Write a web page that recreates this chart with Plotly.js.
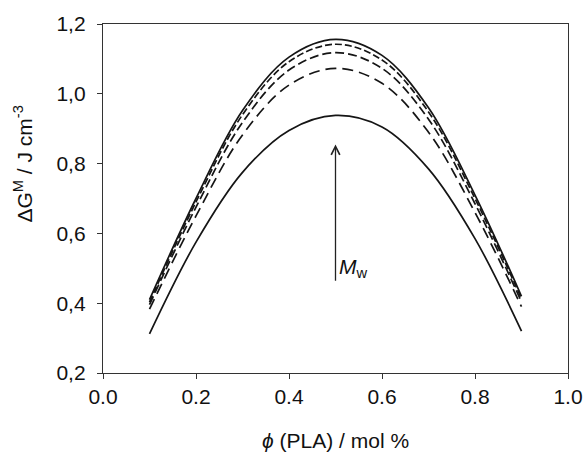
<!DOCTYPE html>
<html><head><meta charset="utf-8">
<script src="https://cdn.plot.ly/plotly-3.0.1.min.js"></script>
<style>body{margin:0;background:#fff}#c{width:584px;height:454px}</style>
</head><body><div id="c"></div>
<script>
const phi = [0.1, 0.2, 0.3, 0.4, 0.5, 0.6, 0.7, 0.8, 0.9];
const gLow   = [0.312, 0.575, 0.775, 0.895, 0.938, 0.905, 0.785, 0.585, 0.320];
const gDash3 = [0.383, 0.650, 0.882, 1.025, 1.073, 1.030, 0.890, 0.660, 0.390];
const gDash2 = [0.396, 0.675, 0.918, 1.068, 1.118, 1.073, 0.927, 0.685, 0.404];
const gDash1 = [0.403, 0.690, 0.940, 1.092, 1.142, 1.097, 0.948, 0.700, 0.413];
const gHigh  = [0.410, 0.700, 0.952, 1.105, 1.156, 1.110, 0.960, 0.710, 0.420];
const xTicks = [0.0, 0.2, 0.4, 0.6, 0.8, 1.0];
const xTickText = ['0.0', '0.2', '0.4', '0.6', '0.8', '1.0'];
const yTicks = [0.2, 0.4, 0.6, 0.8, 1.0, 1.2];
const yTickText = ['0,2', '0,4', '0,6', '0,8', '1,0', '1,2'];

const col = '#151515';
function tr(y, dash) {
  return {x: phi, y: y, mode: 'lines', type: 'scatter',
    line: {color: col, width: 1.7, dash: dash, shape: 'spline', smoothing: 1.0},
    hoverinfo: 'skip', showlegend: false};
}
const data = [
  tr(gLow, 'solid'),
  tr(gDash3, '11px,6px'),
  tr(gDash2, '9px,4px'),
  tr(gDash1, '7px,3px'),
  tr(gHigh, 'solid')
];
const font = {family: 'Liberation Sans, Arial, sans-serif', color: '#111', size: 21};
const layout = {
  width: 584, height: 454,
  margin: {l: 103, r: 16, t: 24, b: 81},
  paper_bgcolor: '#fff', plot_bgcolor: '#fff',
  font: font,
  xaxis: {range: [0, 1], tickvals: xTicks, ticktext: xTickText,
    ticks: 'outside', ticklen: 5, tickwidth: 1, tickcolor: '#333',
    showline: true, linecolor: '#333', linewidth: 1.2, mirror: true,
    showgrid: false, zeroline: false, tickfont: {size: 21}},
  yaxis: {range: [0.2, 1.2], tickvals: yTicks, ticktext: yTickText,
    ticks: 'outside', ticklen: 5, tickwidth: 1, tickcolor: '#333',
    showline: true, linecolor: '#333', linewidth: 1.2, mirror: true,
    showgrid: false, zeroline: false, tickfont: {size: 21}, ticklabelstandoff: 7},
  annotations: [
    {xref: 'paper', yref: 'paper', x: 0.5, y: 0, yshift: -67, showarrow: false,
     text: '<i>ϕ</i> (PLA) / mol %', font: {size: 21}, xanchor: 'center', yanchor: 'middle'},
    {xref: 'paper', yref: 'paper', x: 0, xshift: -80, y: 0.60, showarrow: false,
     text: 'ΔG<sup>M</sup> / J cm<sup>-3</sup>', textangle: -90, font: {size: 21},
     xanchor: 'center', yanchor: 'middle'},
    {xref: 'x', yref: 'y', axref: 'x', ayref: 'y', x: 0.5, y: 0.855, ax: 0.5, ay: 0.46,
     showarrow: true, arrowhead: 5, arrowsize: 1.3, arrowwidth: 1.3, arrowcolor: '#222', text: ''},
    {xref: 'x', yref: 'y', x: 0.503, y: 0.50, showarrow: false, xanchor: 'left', yanchor: 'middle',
     text: '<i>M</i><sub>w</sub>', font: {size: 21}}
  ]
};
Plotly.newPlot('c', data, layout, {displayModeBar: false, staticPlot: true});
</script>
</body></html>
